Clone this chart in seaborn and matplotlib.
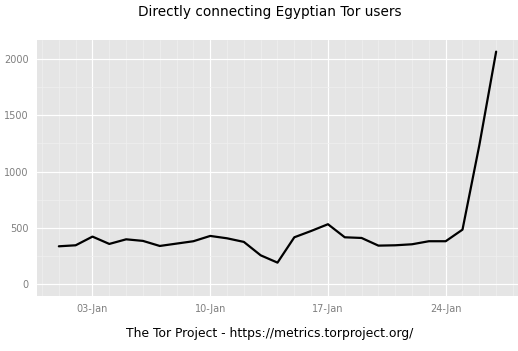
import numpy as np
import pandas as pd
import seaborn as sns
import matplotlib
matplotlib.use("Agg")
import matplotlib.pyplot as plt
import matplotlib.dates as mdates

# daily estimates, January 2011
dates = pd.date_range("2011-01-01", "2011-01-27", freq="D")
users = [337, 346, 423, 358, 399, 385, 340, 361, 382, 429, 408, 376, 257,
         192, 417, 473, 533, 417, 411, 343, 346, 355, 382, 382, 485, 1234, 2065]
date_ticks = ["2011-01-03", "2011-01-10", "2011-01-17", "2011-01-24"]
y_ticks = [0, 500, 1000, 1500, 2000]

df = pd.DataFrame({"date": dates, "users": users})

sns.set_theme(style="darkgrid", rc={
    "axes.facecolor": "#E5E5E5",
    "grid.color": "white",
    "axes.edgecolor": "#E5E5E5",
})
plt.rcParams["font.family"] = ["DejaVu Sans"]

fig = plt.figure(figsize=(5.18, 3.51), dpi=100)
ax = fig.add_axes([0.0714, 0.157, 0.9286, 0.729])

sns.lineplot(data=df, x="date", y="users", color="black", linewidth=1.6, ax=ax)

# ggplot-like 5% expansion
span = (dates[-1] - dates[0]) * 0.05
ax.set_xlim(dates[0] - span, dates[-1] + span)
ymax = max(users)
ax.set_ylim(-0.05 * ymax, 1.05 * ymax)

ax.set_xticks(pd.to_datetime(date_ticks))
ax.xaxis.set_major_formatter(mdates.DateFormatter("%d-%b"))
ax.xaxis.set_minor_locator(mdates.DayLocator())
ax.set_yticks(y_ticks)
ax.set_yticks([250, 750, 1250, 1750], minor=True)

ax.grid(which="major", color="white", linewidth=0.85)
ax.grid(which="minor", color="#F0F0F0", linewidth=0.5)
ax.tick_params(which="major", length=3, width=0.6, color="#7F7F7F",
               labelcolor="#7F7F7F", labelsize=7, pad=3)
ax.tick_params(which="minor", length=0)
ax.set_xlabel("")
ax.set_ylabel("")
for s in ax.spines.values():
    s.set_visible(False)

fig.text(0.521, 0.966, "Directly connecting Egyptian Tor users",
         ha="center", va="center", fontsize=9.8, color="black")
fig.text(0.521, 0.051, "The Tor Project - https://metrics.torproject.org/",
         ha="center", va="center", fontsize=8.9, color="black")

fig.savefig("out.png", dpi=100)
